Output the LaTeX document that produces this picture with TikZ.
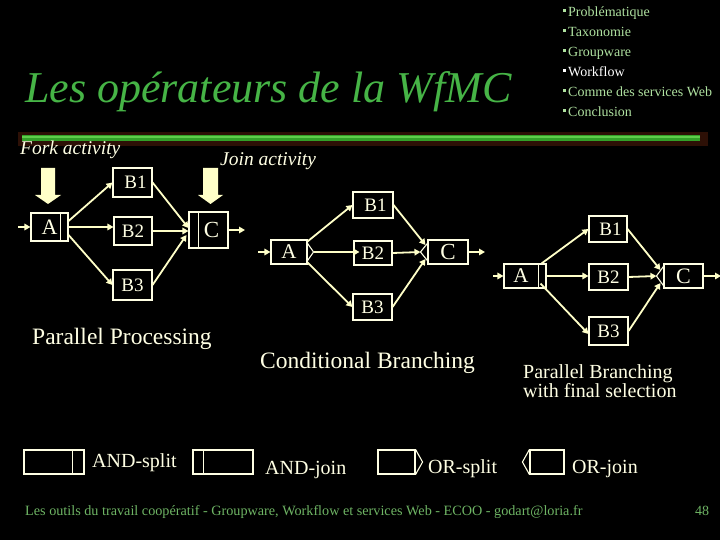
\documentclass[tikz,border=0pt]{standalone}
\usepackage{fontspec}
\setmainfont{Liberation Serif}
\usetikzlibrary{arrows.meta,calc}
\definecolor{titlegreen}{RGB}{70,180,70}
\definecolor{menugreen}{RGB}{175,225,160}
\definecolor{footgreen}{RGB}{110,180,100}
\definecolor{cream}{RGB}{255,255,228}
\definecolor{arrowcol}{RGB}{255,255,200}
\definecolor{barshadow}{RGB}{45,16,6}
\definecolor{bargreen}{RGB}{50,160,40}
\definecolor{barlight}{RGB}{95,205,75}
\tikzset{
  wbox/.style={draw=cream, line width=1.1pt, inner sep=0pt, text=cream,
    font=\fontsize{19}{19}\selectfont},
  boxline/.style={draw=cream, line width=1.1pt},
  flow/.style={draw=arrowcol, line width=1.8pt, -{Triangle[length=6pt,width=6.5pt]}},
  lbl/.style={anchor=base west, inner sep=0pt, text=cream},
  menu/.style={anchor=base west, inner sep=0pt, text=menugreen, font=\fontsize{14}{14}\selectfont},
  bigarrow/.style={fill=arrowcol, draw=none}
}
\begin{document}
\begin{tikzpicture}[x=1pt,y=-1pt]
\fill[black] (0,0) rectangle (720,540);
\useasboundingbox (0,0) rectangle (720,540);

% title
\node[anchor=base west, inner sep=0pt, text=titlegreen, font=\fontsize{44}{44}\selectfont\itshape] (title) at (25,103) {Les opérateurs de la WfMC};

% menu
\foreach \t/\c [count=\i] in {Problématique/menugreen, Taxonomie/menugreen, Groupware/menugreen, Workflow/white, Comme des services Web/menugreen, Conclusion/menugreen}{
  \fill[\c] (563.3,{17+20*(\i-1)-5.3}) rectangle ++(3,-3);
  \node[menu, text=\c] (menu\i) at (568,{17+20*(\i-1)}) {\t};
}

% green bar
\fill[barshadow] (18,132) rectangle (708,146);
\fill[bargreen] (22,135) rectangle (700,141.5);
\draw[barlight, line width=1.4pt] (22,137.2) -- (700,137.2);

% labels
\node[lbl, font=\fontsize{19.5}{19.5}\selectfont\itshape] (fork) at (20,155) {Fork activity};
\node[lbl, font=\fontsize{19.5}{19.5}\selectfont\itshape] (join) at (220,166) {Join activity};

% big arrows
\fill[bigarrow] (41,168) -- (55,168) -- (55,195) -- (61,195) -- (48,204) -- (35,195) -- (41,195) -- cycle;
\fill[bigarrow] (203,168) -- (218,168) -- (218,195) -- (223,195) -- (210.5,204) -- (198,195) -- (203,195) -- cycle;

% ===== Diagram 1: Parallel processing =====
\node[wbox, minimum width=37pt, minimum height=28pt, font=\fontsize{22}{22}\selectfont] (A1) at (49.5,227) {A};
\node[wbox, minimum width=39pt, minimum height=29pt] (B11) at (132.5,182.5) {\hspace{6pt}B1};
\node[wbox, minimum width=38pt, minimum height=28pt] (B12) at (133,231) {B2};
\node[wbox, minimum width=39pt, minimum height=30pt] (B13) at (132.5,285) {B3};
\node[wbox, minimum width=39pt, minimum height=36pt, font=\fontsize{23}{23}\selectfont] (C1) at (208.5,230) {\hspace{6pt}C};
\draw[boxline] ([xshift=-8pt]A1.north east) -- ([xshift=-8pt]A1.south east);
\draw[boxline] ([xshift=10pt]C1.north west) -- ([xshift=10pt]C1.south west);
\coordinate (in1) at (18,227);
\coordinate (out1) at (245,230);
\draw[flow] (in1) -- (A1.west);
\draw[flow] ([yshift=6pt]A1.east) -- (B11.west);
\draw[flow] (A1.east) -- (A1.east -| B12.west);
\draw[flow] ([yshift=-8pt]A1.east) -- (B13.west);
\draw[flow] (B11.east) -- ([yshift=2pt]C1.west);
\draw[flow] (B12.east) -- (B12.east -| C1.west);
\draw[flow] (B13.east) -- ([yshift=-5pt,xshift=-2pt]C1.west);
\draw[flow] (C1.east) -- (out1);
\node[lbl, font=\fontsize{23.5}{23.5}\selectfont] (pp) at (32,344) {Parallel Processing};

% ===== Diagram 2: Conditional branching =====
\node[wbox, minimum width=36pt, minimum height=24pt, font=\fontsize{21}{21}\selectfont] (A2) at (289,252) {A};
\node[wbox, minimum width=40pt, minimum height=26pt] (B21) at (373,205) {\hspace{5pt}B1};
\node[wbox, minimum width=38pt, minimum height=24pt] (B22) at (373,253) {B2};
\node[wbox, minimum width=39pt, minimum height=26pt] (B23) at (372.5,307) {B3};
\node[wbox, minimum width=40pt, minimum height=24pt, font=\fontsize{23}{23}\selectfont] (C2) at (448,252) {C};
\draw[boxline] ([yshift=-4pt]A2.north east) -- ([xshift=6pt]A2.east) -- ([yshift=4pt]A2.south east);
\draw[boxline] ([yshift=-4pt]C2.north west) -- ([xshift=-7pt]C2.west) -- ([yshift=4pt]C2.south west);
\coordinate (in2) at (258,252);
\coordinate (out2) at (485,252);
\draw[flow] (in2) -- (A2.west);
\draw[flow] ([yshift=-2pt]A2.north east) -- (B21.west);
\draw[flow] ([xshift=6pt]A2.east) -- ([xshift=6pt]A2.east -| B22.west);
\draw[flow] ([yshift=2pt]A2.south east) -- (B23.west);
\draw[flow] (B21.east) -- ([xshift=-2pt,yshift=7pt]C2.west);
\draw[flow] (B22.east) -- ([xshift=-7pt]C2.west);
\draw[flow] (B23.east) -- ([xshift=-2pt,yshift=-7pt]C2.west);
\draw[flow] (C2.east) -- (out2);
\node[lbl, font=\fontsize{23.5}{23.5}\selectfont] (cb) at (260,368) {Conditional Branching};

% ===== Diagram 3: Parallel branching with final selection =====
\node[wbox, minimum width=42pt, minimum height=24pt, font=\fontsize{21}{21}\selectfont] (A3) at (525,276) {\hspace{-8pt}A};
\node[wbox, minimum width=38pt, minimum height=26pt] (B31) at (608,229) {\hspace{5pt}B1};
\node[wbox, minimum width=39pt, minimum height=26pt] (B32) at (608.5,277) {B2};
\node[wbox, minimum width=39pt, minimum height=28pt] (B33) at (608.5,331) {B3};
\node[wbox, minimum width=39pt, minimum height=24pt, font=\fontsize{22}{22}\selectfont] (C3) at (683.5,276) {C};
\draw[boxline] ([xshift=-8pt]A3.north east) -- ([xshift=-8pt]A3.south east);
\draw[boxline] ([yshift=-3pt]C3.north west) -- ([xshift=-7pt]C3.west) -- ([yshift=3pt]C3.south west);
\coordinate (in3) at (493,276);
\coordinate (out3) at (721,276);
\draw[flow] (in3) -- (A3.west);
\draw[flow] ([xshift=-5pt]A3.north east) -- (B31.west);
\draw[flow] (A3.east) -- (A3.east -| B32.west);
\draw[flow] ([xshift=-6pt,yshift=5pt]A3.south east) -- ([yshift=-3pt]B33.west);
\draw[flow] (B31.east) -- ([xshift=-3pt,yshift=6pt]C3.west);
\draw[flow] (B32.east) -- ([xshift=-7pt]C3.west);
\draw[flow] (B33.east) -- ([xshift=-3pt,yshift=-7pt]C3.west);
\draw[flow] (C3.east) -- (out3);
\node[lbl, font=\fontsize{20}{20}\selectfont] (pb1) at (523,378) {Parallel Branching};
\node[lbl, font=\fontsize{20}{20}\selectfont] (pb2) at (523,397) {with final selection};

% ===== Legend =====
\node[wbox, minimum width=60pt, minimum height=24pt] (andsplit) at (54,462) {};
\draw[boxline] ([xshift=-12pt]andsplit.north east) -- ([xshift=-12pt]andsplit.south east);
\node[lbl, font=\fontsize{20}{20}\selectfont] (andsplitl) at (92,467) {AND-split};
\node[wbox, minimum width=60pt, minimum height=24pt] (andjoin) at (223,462) {};
\draw[boxline] ([xshift=11pt]andjoin.north west) -- ([xshift=11pt]andjoin.south west);
\node[lbl, font=\fontsize{20}{20}\selectfont] (andjoinl) at (265,474) {AND-join};
\node[wbox, minimum width=37pt, minimum height=24pt] (orsplit) at (396.5,462) {};
\draw[boxline] (orsplit.north east) -- ([xshift=7pt]orsplit.east) -- (orsplit.south east);
\node[lbl, font=\fontsize{20}{20}\selectfont] (orsplitl) at (428,473) {OR-split};
\node[wbox, minimum width=34pt, minimum height=24pt] (orjoin) at (547,462) {};
\draw[boxline] (orjoin.north west) -- ([xshift=-7pt]orjoin.west) -- (orjoin.south west);
\node[lbl, font=\fontsize{20}{20}\selectfont] (orjoinl) at (572,473) {OR-join};

% footer
\node[anchor=base west, inner sep=0pt, text=footgreen, font=\fontsize{14.2}{14.2}\selectfont] (foot) at (25,515) {Les outils du travail coopératif - Groupware, Workflow et services Web - ECOO - godart@loria.fr};
\node[anchor=base west, inner sep=0pt, text=footgreen, font=\fontsize{14}{14}\selectfont] (page) at (695,515) {48};
\end{tikzpicture}
\end{document}
